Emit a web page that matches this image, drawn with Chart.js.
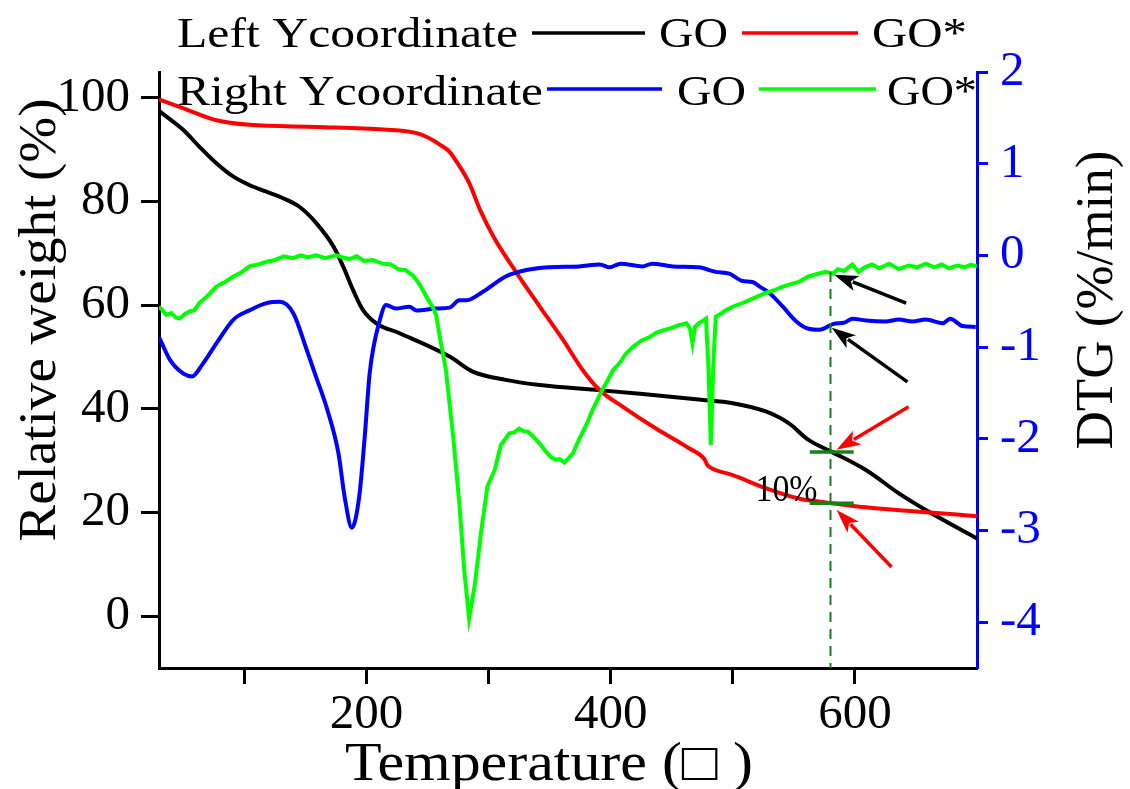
<!DOCTYPE html>
<html lang="en">
<head>
<meta charset="UTF-8">
<title>GO / GO* TGA and DTG</title>
<script src="https://cdn.jsdelivr.net/npm/chart.js"></script>
<style>
  html, body { margin: 0; padding: 0; background: #fff; }
  #caixa { width: 1130px; height: 789px; position: relative; }
</style>
</head>
<body>
<div id="caixa"><canvas id="grafico"></canvas></div>

<script>
  // ---- data ----
  // GO, relative weight (%) - left axis
  const tempGO = [30, 50, 63, 77, 91, 104, 118, 132, 145, 159, 173, 181, 189, 197, 208, 227, 268, 287, 314, 342, 391, 424, 472, 500, 527, 546, 562, 581, 609, 636, 663, 700];
  const weightGO = [97.5, 93.8, 90.6, 87.4, 84.8, 83.2, 81.9, 80.6, 79.0, 75.8, 71.3, 67.4, 62.9, 59.1, 56.5, 54.6, 50.1, 47.2, 45.6, 44.6, 43.6, 42.9, 41.8, 41.1, 39.5, 37.2, 34.0, 31.7, 28.2, 23.7, 19.8, 15.0];

  // GO*, relative weight (%) - left axis
  const tempGOs = [30, 50, 77, 104, 159, 214, 241, 254, 260, 268, 274, 284, 293, 304, 323, 342, 361, 377, 391, 410, 437, 464, 477, 479, 483, 500, 527, 554, 581, 609, 650, 700];
  const weightGOs = [99.7, 98.0, 95.7, 94.8, 94.4, 93.9, 93.2, 91.9, 91.0, 89.6, 87.6, 83.6, 78.4, 73.2, 66.2, 59.7, 53.3, 47.5, 43.6, 40.4, 36.2, 32.4, 30.2, 29.2, 28.5, 27.2, 24.7, 22.7, 21.8, 21.0, 20.2, 19.3];

  // GO, DTG (%/min) - right axis
  const tempDtgGO = [30, 39, 50, 57, 66, 77, 91, 104, 118, 129, 140, 151, 158, 168, 177, 182, 188, 194, 198.5, 202.6, 211, 216, 224, 235, 241, 257, 268, 276, 282, 295, 314, 331, 350, 374, 391, 399, 408, 426, 434, 451, 472, 486, 497, 508, 516, 522, 530, 541, 552, 562, 571, 582, 592, 598, 609, 625, 636, 647, 658, 672, 678, 688, 699];
  const dtgGO = [-0.89, -1.14, -1.29, -1.32, -1.18, -0.96, -0.70, -0.60, -0.52, -0.505, -0.63, -1.03, -1.30, -1.69, -2.16, -2.63, -2.97, -2.63, -1.98, -1.28, -0.70, -0.54, -0.58, -0.56, -0.60, -0.58, -0.57, -0.49, -0.49, -0.40, -0.23, -0.16, -0.13, -0.12, -0.10, -0.13, -0.09, -0.12, -0.09, -0.12, -0.13, -0.18, -0.20, -0.28, -0.29, -0.34, -0.41, -0.56, -0.72, -0.80, -0.81, -0.75, -0.73, -0.69, -0.71, -0.72, -0.70, -0.72, -0.70, -0.74, -0.69, -0.77, -0.78];

  // GO*, DTG (%/min) - right axis
  const tempDtgGOs = [30, 33, 36, 40, 44, 47, 51, 55, 59, 63, 70, 77, 84, 91, 97, 104, 111, 118, 125, 132, 140, 146, 152, 159, 166, 175, 180, 186, 192, 198, 205, 213, 220, 226, 232, 238, 241, 245, 249, 254, 257, 260, 265, 271, 276, 280, 284, 288.5, 294, 299, 305, 310, 317, 321, 325, 329, 332, 336, 339, 343, 347, 351, 355, 358, 362, 365, 369, 374, 380, 385, 389, 393, 398, 402, 407, 412, 418, 425, 432, 438, 445, 450, 456, 462, 465, 467, 469, 472, 476, 478, 480, 482, 484, 486, 490, 494, 500, 506, 513, 520, 527, 534, 541, 548, 554, 562, 570, 576, 582, 586, 591, 598, 603, 608, 614, 620, 628, 636, 644, 651, 658, 665, 671, 677, 684, 690, 695, 700];
  const dtgGOs = [-0.56, -0.60, -0.65, -0.63, -0.68, -0.69, -0.64, -0.61, -0.60, -0.52, -0.44, -0.34, -0.29, -0.23, -0.19, -0.12, -0.10, -0.07, -0.05, -0.01, -0.03, 0.0, -0.02, 0.0, -0.03, 0.0, -0.02, -0.04, -0.01, -0.06, -0.05, -0.09, -0.10, -0.15, -0.16, -0.22, -0.27, -0.35, -0.45, -0.56, -0.65, -0.89, -1.25, -1.98, -2.70, -3.43, -3.96, -3.61, -3.00, -2.52, -2.34, -2.07, -1.94, -1.93, -1.89, -1.92, -1.92, -1.97, -2.01, -2.07, -2.14, -2.20, -2.23, -2.22, -2.26, -2.22, -2.16, -2.01, -1.85, -1.69, -1.58, -1.47, -1.35, -1.25, -1.18, -1.08, -1.00, -0.93, -0.89, -0.84, -0.81, -0.79, -0.76, -0.74, -0.80, -0.96, -0.78, -0.74, -0.71, -0.69, -1.20, -2.07, -1.20, -0.67, -0.64, -0.60, -0.56, -0.53, -0.49, -0.45, -0.41, -0.38, -0.34, -0.31, -0.29, -0.23, -0.20, -0.18, -0.20, -0.15, -0.17, -0.10, -0.18, -0.13, -0.10, -0.14, -0.09, -0.15, -0.11, -0.13, -0.09, -0.13, -0.10, -0.14, -0.11, -0.13, -0.10, -0.12];

  // tick values
  const xTicks = [100, 200, 300, 400, 500, 600];
  const leftTicks = [0, 10, 20, 30, 40, 50, 60, 70, 80, 90, 100];
  const rightTicks = [-4, -3.5, -3, -2.5, -2, -1.5, -1, -0.5, 0, 0.5, 1, 1.5, 2];

  // 10% marker and arrows (temperature, value)
  const markTemp = 580;
  const markDtgTop = -0.18;
  const markGO = 31.7;
  const markGOs = 21.8;
  const arrowsDtg = [[642, -0.52, 583, -0.21], [643, -1.38, 581, -0.79]];
  const arrowsWeight = [[644, 40.4, 585, 32.1], [630, 9.5, 585, 20.5]];

  const SERIF = '"Liberation Serif", Tinos, "Times New Roman", Times, serif';
  const verdeEscuro = '#16801a';

  function pares(xs, ys) {
    return xs.map((v, i) => ({ x: v, y: ys[i] }));
  }

  // text with optional target width (stretches horizontally like the original)
  function texto(ctx, str, x, y, size, opts) {
    opts = opts || {};
    ctx.save();
    ctx.font = size + 'px ' + SERIF;
    ctx.fillStyle = opts.color || '#000';
    ctx.textBaseline = 'alphabetic';
    ctx.textAlign = opts.align || 'left';
    let sx = 1;
    if (opts.w) sx = opts.w / ctx.measureText(str).width;
    ctx.translate(x, y);
    if (opts.rot) ctx.rotate(opts.rot);
    ctx.scale(sx, 1);
    ctx.fillText(str, 0, 0);
    ctx.restore();
  }

  function seta(ctx, x0, y0, x1, y1, cor) {
    const ang = Math.atan2(y1 - y0, x1 - x0);
    const L = 24, W = 8;
    const bx = x1 - L * Math.cos(ang), by = y1 - L * Math.sin(ang);
    ctx.strokeStyle = cor;
    ctx.fillStyle = cor;
    ctx.lineWidth = 3.5;
    ctx.beginPath();
    ctx.moveTo(x0, y0);
    ctx.lineTo(bx + 4 * Math.cos(ang), by + 4 * Math.sin(ang));
    ctx.stroke();
    ctx.beginPath();
    ctx.moveTo(x1, y1);
    ctx.lineTo(bx - W * Math.sin(ang), by + W * Math.cos(ang));
    ctx.lineTo(bx + 6 * Math.cos(ang), by + 6 * Math.sin(ang));
    ctx.lineTo(bx + W * Math.sin(ang), by - W * Math.cos(ang));
    ctx.closePath();
    ctx.fill();
  }

  const anotacoes = {
    id: 'anotacoes',
    afterDatasetsDraw(chart) {
      const { ctx, chartArea } = chart;
      const { x, y, y2 } = chart.scales;
      ctx.save();

      // dashed vertical line
      const xd = x.getPixelForValue(markTemp);
      ctx.strokeStyle = verdeEscuro;
      ctx.lineWidth = 2;
      ctx.setLineDash([10, 7]);
      ctx.beginPath();
      ctx.moveTo(xd, y2.getPixelForValue(markDtgTop));
      ctx.lineTo(xd, chartArea.bottom);
      ctx.stroke();
      ctx.setLineDash([]);

      // short level bars
      ctx.lineWidth = 3.5;
      [markGO, markGOs].forEach(v => {
        const py = y.getPixelForValue(v);
        ctx.beginPath();
        ctx.moveTo(x.getPixelForValue(markTemp - 17), py);
        ctx.lineTo(x.getPixelForValue(markTemp + 19), py);
        ctx.stroke();
      });

      texto(ctx, '10%', x.getPixelForValue(markTemp - 36), y.getPixelForValue(markGO - 9.5), 38, { align: 'center', w: 62 });

      arrowsDtg.forEach(a => seta(ctx, x.getPixelForValue(a[0]), y2.getPixelForValue(a[1]), x.getPixelForValue(a[2]), y2.getPixelForValue(a[3]), '#000'));
      arrowsWeight.forEach(a => seta(ctx, x.getPixelForValue(a[0]), y.getPixelForValue(a[1]), x.getPixelForValue(a[2]), y.getPixelForValue(a[3]), '#ff0000'));

      ctx.restore();
    },
    afterDraw(chart) {
      const { ctx } = chart;
      ctx.save();
      // legend, two rows
      texto(ctx, 'Left Ycoordinate', 177, 47, 43, { w: 341 });
      ctx.lineWidth = 3.5;
      ctx.strokeStyle = '#000';
      ctx.beginPath(); ctx.moveTo(532, 33); ctx.lineTo(645, 33); ctx.stroke();
      texto(ctx, 'GO', 659, 47, 43, { w: 69 });
      ctx.strokeStyle = '#ff0000';
      ctx.beginPath(); ctx.moveTo(742, 33); ctx.lineTo(858, 33); ctx.stroke();
      texto(ctx, 'GO*', 872, 47, 43, { w: 95 });

      texto(ctx, 'Right Ycoordinate', 177, 105, 43, { w: 366 });
      ctx.strokeStyle = '#0000ff';
      ctx.beginPath(); ctx.moveTo(547, 89); ctx.lineTo(662, 89); ctx.stroke();
      texto(ctx, 'GO', 677, 105, 43, { w: 69 });
      ctx.strokeStyle = '#00ff00';
      ctx.beginPath(); ctx.moveTo(759, 89); ctx.lineTo(876, 89); ctx.stroke();
      texto(ctx, 'GO*', 887, 105, 43, { w: 90 });

      // axis titles
      texto(ctx, 'Temperature (\u25A1 )', 549, 780, 54, { align: 'center', w: 408 });
      texto(ctx, 'Relative weight (%)', 55, 320, 52, { align: 'center', w: 443, rot: -Math.PI / 2 });
      texto(ctx, 'DTG (%/min)', 1112, 300, 52, { align: 'center', w: 299, rot: -Math.PI / 2 });
      ctx.restore();
    }
  };

  const fonteTick = { family: SERIF, size: 49 };

  const config = {
    type: 'line',
    data: {
      datasets: [
        { label: 'GO* DTG', data: pares(tempDtgGOs, dtgGOs), yAxisID: 'y2', borderColor: '#00ff00', borderWidth: 4, pointRadius: 0, tension: 0 },
        { label: 'GO DTG', data: pares(tempDtgGO, dtgGO), yAxisID: 'y2', borderColor: '#0000ff', borderWidth: 4, pointRadius: 0, cubicInterpolationMode: 'monotone' },
        { label: 'GO*', data: pares(tempGOs, weightGOs), yAxisID: 'y', borderColor: '#ff0000', borderWidth: 4, pointRadius: 0, cubicInterpolationMode: 'monotone' },
        { label: 'GO', data: pares(tempGO, weightGO), yAxisID: 'y', borderColor: '#000000', borderWidth: 4, pointRadius: 0, cubicInterpolationMode: 'monotone' }
      ]
    },
    options: {
      responsive: true,
      maintainAspectRatio: false,
      animation: false,
      events: [],
      layout: { padding: { top: 72, left: 0, right: 0, bottom: 0 } },
      plugins: { legend: { display: false }, tooltip: { enabled: false } },
      scales: {
        x: {
          type: 'linear',
          min: 30,
          max: 700,
          afterBuildTicks: s => { s.ticks = xTicks.map(v => ({ value: v })); },
          afterFit: s => { s.height = 121; },
          border: { color: '#000', width: 3 },
          grid: { drawOnChartArea: false, drawTicks: true, tickLength: 16, tickWidth: 3, tickColor: '#000' },
          ticks: { color: '#000', font: fonteTick, padding: 2, maxRotation: 0, callback: v => (v % 200 === 0 ? v : '') }
        },
        y: {
          position: 'left',
          min: -10,
          max: 105,
          afterBuildTicks: s => { s.ticks = leftTicks.map(v => ({ value: v })); },
          afterFit: s => { s.width = 159; },
          border: { color: '#000', width: 3 },
          grid: { drawOnChartArea: false, drawTicks: true, tickLength: 18, tickWidth: 3, tickColor: '#000' },
          ticks: { color: '#000', font: fonteTick, padding: 11, callback: v => (v % 20 === 0 ? v : '') }
        },
        y2: {
          position: 'right',
          min: -4.5,
          max: 2,
          afterBuildTicks: s => { s.ticks = rightTicks.map(v => ({ value: v })); },
          afterFit: s => { s.width = 153; },
          border: { color: '#0000ff', width: 3 },
          grid: { drawOnChartArea: false, drawTicks: true, tickLength: 11, tickWidth: 3, tickColor: '#0000ff' },
          ticks: { color: '#0000ff', font: fonteTick, padding: 12, callback: v => (Number.isInteger(v) ? v : '') }
        }
      }
    },
    plugins: [anotacoes]
  };

  const meuGrafico = new Chart(document.getElementById('grafico'), config);
</script>
</body>
</html>
